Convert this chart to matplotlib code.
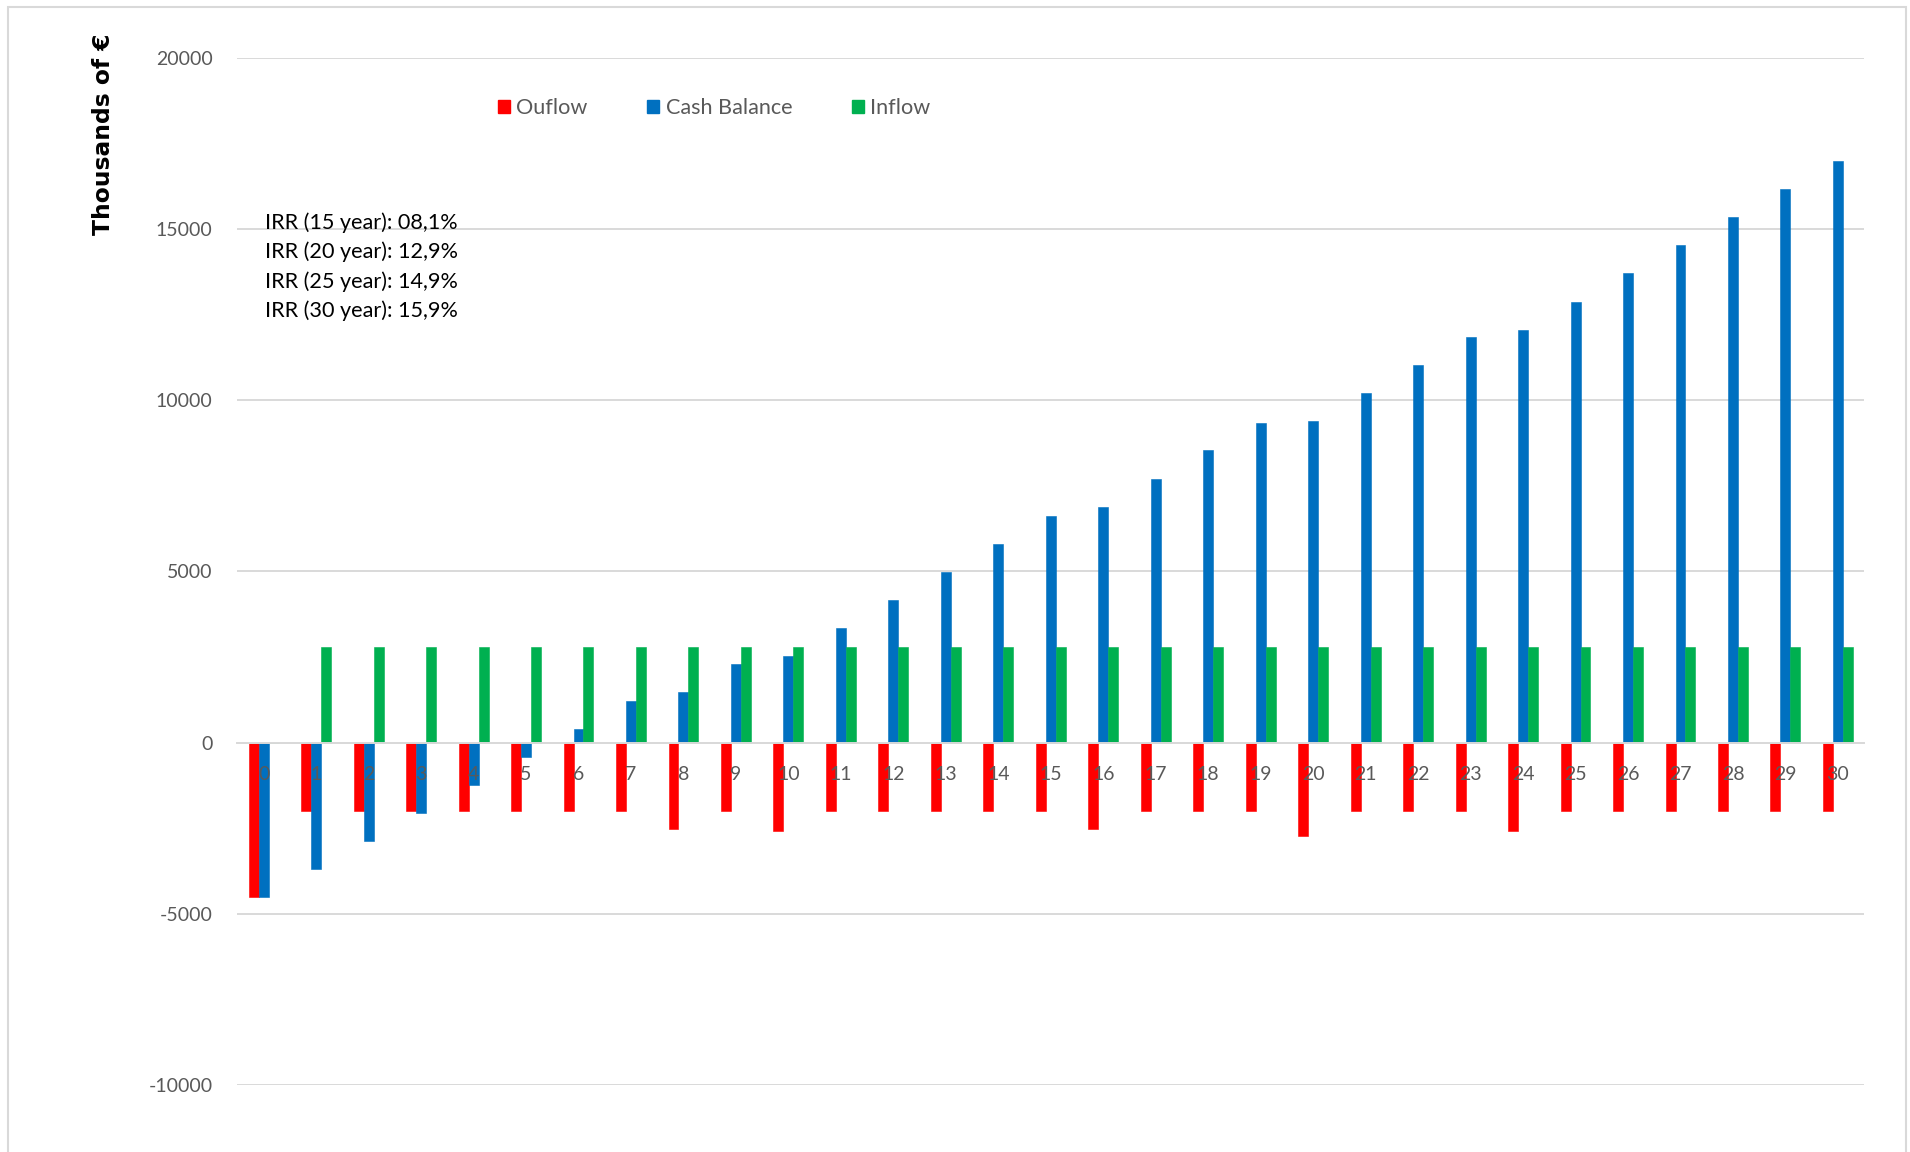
import numpy as np
import matplotlib
matplotlib.use("Agg")
import matplotlib.pyplot as plt
from matplotlib.patches import Rectangle, Patch

plt.rcParams['font.family'] = ['Lato', 'DejaVu Sans']
plt.rcParams['axes.unicode_minus'] = False

# cash flow per year, thousands of euro
years = list(range(0, 31))
outflow = [-4520, -1990, -1990, -1990, -1990, -1990, -1990, -1990, -2530, -1990,
           -2570, -1990, -1990, -1990, -1990, -1990, -2530, -1990, -1990, -1990,
           -2740, -1990, -1990, -1990, -2590, -1990, -1990, -1990, -1990, -1990,
           -1990]
cash_balance = [-4520, -3700, -2870, -2070, -1240, -420, 400, 1220, 1490, 2300,
                2520, 3340, 4150, 4980, 5800, 6620, 6890, 7710, 8530, 9340,
                9400, 10210, 11030, 11850, 12060, 12880, 13700, 14520, 15340, 16160,
                16980]
inflow = [0] + [2790] * 30

irr_horizon = [15, 20, 25, 30]
irr_value = ['08,1', '12,9', '14,9', '15,9']

series_names = ['Ouflow', 'Cash Balance', 'Inflow']
colors = ['#FF0000', '#0070C0', '#00B050']
grey = '#D9D9D9'
text_grey = '#595959'

fig = plt.figure(figsize=(19.1, 11.52), dpi=100)
ax = fig.add_axes([0.1243, 0.0582, 0.8517, 0.8917])

x = np.arange(len(years))
w = 0.19
for off, vals, c in zip([-w, 0, w], [outflow, cash_balance, inflow], colors):
    ax.bar(x + off, vals, width=w, color=c, edgecolor=c, linewidth=0.4, zorder=1)

ax.set_xlim(-0.5, len(years) - 0.5)
ax.set_ylim(-10000, 20000)
ax.set_yticks(np.arange(-10000, 20001, 5000))
# gridlines behind the bars, tick labels on top of them
for t in ax.get_yticks():
    ax.axhline(t, color=grey, linewidth=1.4, zorder=0)
ax.xaxis.set_zorder(4)
ax.yaxis.set_zorder(4)

for s in ['top', 'right', 'left']:
    ax.spines[s].set_visible(False)
ax.spines['bottom'].set_position(('data', 0))
ax.spines['bottom'].set_color(grey)
ax.spines['bottom'].set_linewidth(1.4)
ax.spines['bottom'].set_zorder(3)

ax.set_xticks(x)
ax.set_xticklabels([str(y) for y in years])
ax.tick_params(axis='x', length=0, pad=17, labelsize=14, labelcolor=text_grey)
ax.tick_params(axis='y', length=0, pad=18, labelsize=14, labelcolor=text_grey)

fig.text(0.0542, 0.8837, 'Thousands of €', rotation=90, ha='center', va='center',
         fontsize=16.8, fontweight='bold', family='DejaVu Sans', color='black')

handles = [Patch(facecolor=c, edgecolor=c) for c in colors]
fig.legend(handles, series_names, loc='center left', bbox_to_anchor=(0.2607, 0.906),
           ncol=3, frameon=False, fontsize=15.6, labelcolor=text_grey,
           handlelength=0.55, handleheight=0.55, handletextpad=0.3,
           columnspacing=2.75, borderpad=0, borderaxespad=0)

for i, (h, v) in enumerate(zip(irr_horizon, irr_value)):
    fig.text(0.139, 0.8064 - i * 0.0253, f'IRR ({h} year): {v}%', ha='left', va='center',
             fontsize=15.6, color='black')

fig.patches.append(Rectangle((0.0042, -0.05), 0.9937, 1.0439, transform=fig.transFigure,
                             fill=False, edgecolor=grey, linewidth=1.5))

fig.savefig('out.png', dpi=100, facecolor='white')
